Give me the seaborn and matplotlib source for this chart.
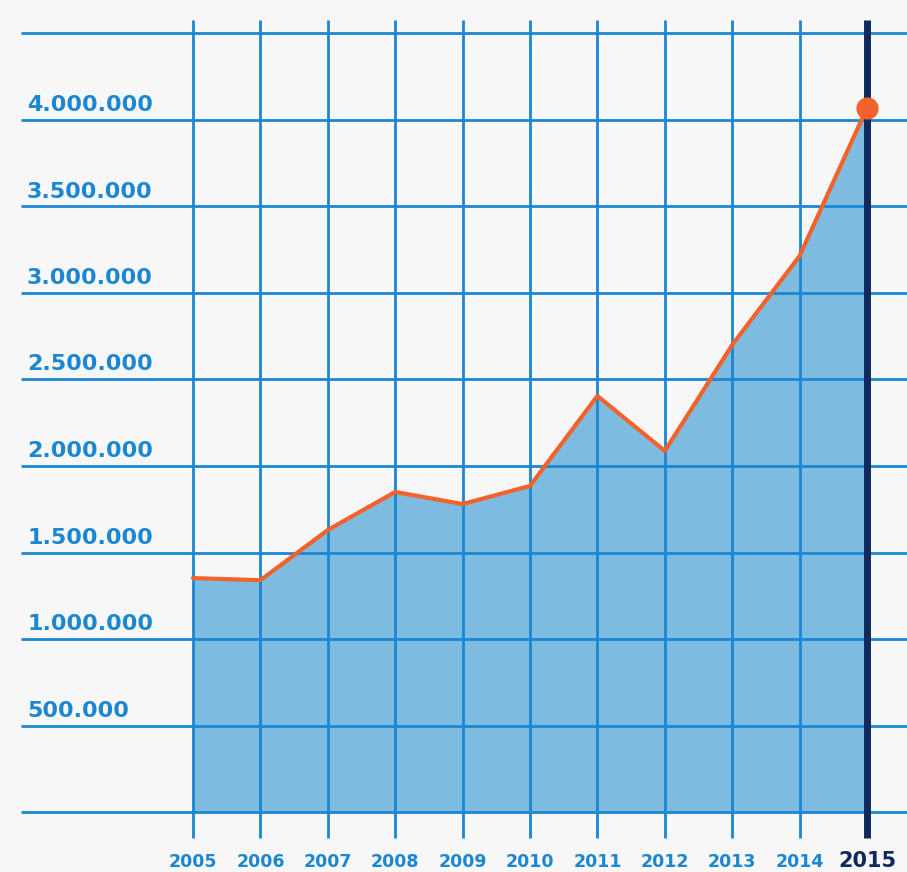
import numpy as np
import pandas as pd
import matplotlib
matplotlib.use("Agg")
import matplotlib.pyplot as plt
import seaborn as sns

years = [2005, 2006, 2007, 2008, 2009, 2010, 2011, 2012, 2013, 2014, 2015]
values = [1352000, 1340000, 1630000, 1850000, 1780000, 1885000,
          2405000, 2087000, 2700000, 3214000, 4070000]
ytick_vals = [500000, 1000000, 1500000, 2000000, 2500000, 3000000, 3500000, 4000000]
ytick_labels = ["500.000", "1.000.000", "1.500.000", "2.000.000", "2.500.000",
                "3.000.000", "3.500.000", "4.000.000"]
hlines_vals = [0] + ytick_vals + [4500000]

df = pd.DataFrame({"year": years, "value": values})

sns.set_style("white")
plt.rcParams['font.family'] = ['DejaVu Sans']

bg = "#f7f7f7"
grid_c = "#1b86d1"
fill_c = "#7dbce0"
line_c = "#f2622a"
navy = "#0e2a5c"

fig = plt.figure(figsize=(9.07, 8.72), dpi=100)
fig.patch.set_facecolor(bg)
ax = fig.add_axes([0, 0, 1, 1])
ax.set_facecolor(bg)

# pixel mapping: year 2005 at x=193, 67.4 px/year; 0 at y=812, 86.5 px per 500k
px_year = 67.4
px_val = 86.5 / 500000
ax.set_xlim(2005 - 193 / px_year, 2005 + (907 - 193) / px_year)
ax.set_ylim(-(872 - 812) / px_val, 812 / px_val)

ax.fill_between(df["year"], 0, df["value"], color=fill_c, zorder=1, linewidth=0)

x_left = 2005 - (193 - 21) / px_year
ax.hlines(hlines_vals, x_left, 2016, color=grid_c, linewidth=2.0, zorder=2)
ax.vlines(years[:-1], -26 / px_val, (812 - 20) / px_val, color=grid_c, linewidth=2.0, zorder=2)
ax.vlines(years[-1], -26 / px_val, (812 - 20) / px_val, color=navy, linewidth=5, zorder=3)

sns.lineplot(data=df, x="year", y="value", ax=ax, color=line_c, linewidth=3, zorder=4)
ax.plot(years[-1], values[-1], "o", color=line_c, markersize=15, zorder=5)

for v, lab in zip(ytick_vals, ytick_labels):
    ax.text(2005 - (193 - 27) / px_year, v + 9 / px_val, lab, color=grid_c,
            fontsize=16, fontweight="bold", ha="left", va="baseline", zorder=6)

for yr in years[:-1]:
    ax.text(yr, -50 / px_val, str(yr), color=grid_c, fontsize=12.5,
            fontweight="bold", ha="center", va="center", zorder=6)
ax.text(years[-1], -49 / px_val, str(years[-1]), color=navy, fontsize=15,
        fontweight="bold", ha="center", va="center", zorder=6)

ax.axis("off")
fig.savefig("out.png", dpi=100, facecolor=bg)
